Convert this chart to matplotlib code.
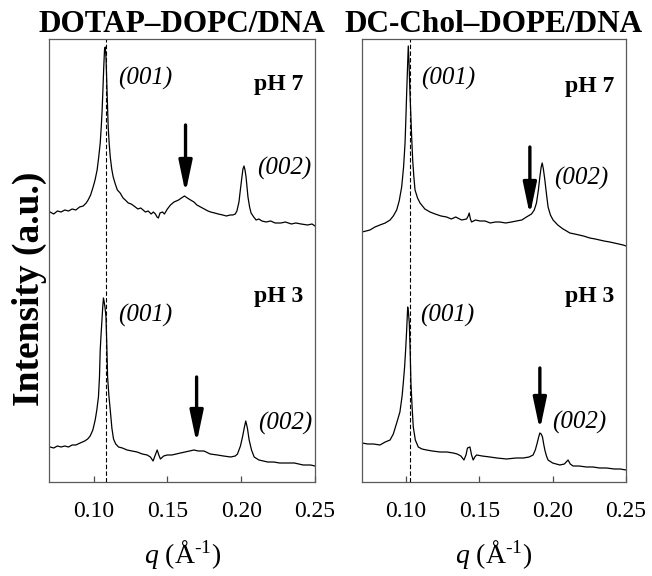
import matplotlib
matplotlib.use("Agg")
import matplotlib.pyplot as plt

plt.rcParams['font.family'] = ['Liberation Serif', 'DejaVu Serif']
plt.rcParams['mathtext.fontset'] = 'custom'
plt.rcParams['mathtext.rm'] = 'Liberation Serif'
plt.rcParams['mathtext.it'] = 'Liberation Serif:italic'

# q in 1/A, intensity in arbitrary units (curves already offset)
q_dotap_ph7 = [0.0705, 0.0730, 0.0755, 0.0780, 0.0805, 0.0830, 0.0855, 0.0880, 0.0905, 0.0930,
               0.0950, 0.0963, 0.0980, 0.0997, 0.1010, 0.1024, 0.1035, 0.1045, 0.1052, 0.1058,
               0.1064, 0.1069, 0.1074, 0.1079, 0.1084, 0.1089, 0.1094, 0.1099, 0.1106, 0.1113,
               0.1123, 0.1133, 0.1147, 0.1161, 0.1180, 0.1200, 0.1215, 0.1235, 0.1255, 0.1283,
               0.1300, 0.1320, 0.1351, 0.1370, 0.1390, 0.1405, 0.1419, 0.1430, 0.1439, 0.1450,
               0.1467, 0.1480, 0.1500, 0.1521, 0.1545, 0.1576, 0.1595, 0.1616, 0.1635, 0.1657,
               0.1680, 0.1700, 0.1725, 0.1750, 0.1775, 0.1793, 0.1820, 0.1845, 0.1875, 0.1900,
               0.1925, 0.1943, 0.1960, 0.1971, 0.1985, 0.1992, 0.2005, 0.2012, 0.2019, 0.2026,
               0.2033, 0.2046, 0.2057, 0.2067, 0.2085, 0.2101, 0.2120, 0.2140, 0.2169, 0.2200,
               0.2230, 0.2269, 0.2300, 0.2340, 0.2370, 0.2406, 0.2450, 0.2480, 0.2500]
i_dotap_ph7 = [270, 268, 271, 270, 272, 271, 273, 272, 275, 276,
               279, 282, 287, 295, 302, 312, 325, 339, 355, 372,
               395, 415, 432, 435, 425, 402, 378, 355, 338, 325,
               313, 305, 298, 292, 289, 284, 282, 279, 278, 275,
               273, 274, 270, 271, 268, 270, 268, 265, 264, 269,
               270, 268, 273, 277, 280, 282, 284, 286, 284, 282,
               280, 277, 275, 273, 271, 270, 269, 268, 267, 266,
               267, 267, 268, 271, 280, 289, 305, 313, 316, 312,
               305, 285, 275, 269, 265, 262, 263, 261, 260, 261,
               259, 259, 260, 258, 259, 258, 257, 258, 256]

q_dotap_ph3 = [0.0705, 0.0730, 0.0755, 0.0780, 0.0805, 0.0830, 0.0855, 0.0880, 0.0909, 0.0940,
               0.0960, 0.0977, 0.0995, 0.1011, 0.1022, 0.1033, 0.1040, 0.1045, 0.1051, 0.1056,
               0.1062, 0.1067, 0.1072, 0.1078, 0.1084, 0.1090, 0.1095, 0.1104, 0.1113, 0.1124,
               0.1135, 0.1150, 0.1169, 0.1195, 0.1227, 0.1260, 0.1295, 0.1330, 0.1363, 0.1385,
               0.1403, 0.1418, 0.1431, 0.1442, 0.1453, 0.1475, 0.1499, 0.1530, 0.1560, 0.1589,
               0.1620, 0.1650, 0.1680, 0.1710, 0.1748, 0.1790, 0.1839, 0.1880, 0.1929, 0.1960,
               0.1975, 0.1995, 0.2009, 0.2022, 0.2031, 0.2042, 0.2054, 0.2070, 0.2088, 0.2120,
               0.2150, 0.2179, 0.2220, 0.2260, 0.2300, 0.2360, 0.2420, 0.2470, 0.2500]
i_dotap_ph3 = [35, 34, 36, 35, 36, 35, 37, 37, 39, 41,
               43, 46, 52, 62, 72, 85, 105, 132, 148, 160,
               175, 184, 180, 174, 165, 135, 105, 86, 72, 54,
               43, 38, 35, 34, 32, 31, 30, 28, 27, 25,
               21, 27, 32, 27, 23, 26, 27, 27, 28, 29,
               30, 31, 32, 31, 31, 28, 27, 26, 25, 26,
               28, 36, 45, 55, 61, 54, 42, 32, 25, 22,
               21, 20, 20, 19, 19, 19, 17, 17, 16]

q_dchol_ph7 = [0.0702, 0.0730, 0.0756, 0.0790, 0.0824, 0.0860, 0.0893, 0.0915, 0.0938, 0.0955,
               0.0972, 0.0985, 0.0995, 0.1001, 0.1006, 0.1012, 0.1017, 0.1022, 0.1027, 0.1033,
               0.1040, 0.1047, 0.1055, 0.1063, 0.1080, 0.1097, 0.1130, 0.1165, 0.1200, 0.1240,
               0.1278, 0.1310, 0.1340, 0.1380, 0.1414, 0.1425, 0.1432, 0.1440, 0.1448, 0.1475,
               0.1505, 0.1540, 0.1575, 0.1610, 0.1641, 0.1680, 0.1720, 0.1754, 0.1790, 0.1822,
               0.1856, 0.1875, 0.1890, 0.1903, 0.1913, 0.1922, 0.1929, 0.1937, 0.1947, 0.1958,
               0.1969, 0.1985, 0.2003, 0.2035, 0.2071, 0.2095, 0.2117, 0.2150, 0.2180, 0.2210,
               0.2253, 0.2290, 0.2320, 0.2350, 0.2389, 0.2420, 0.2450, 0.2480, 0.2500]
i_dchol_ph7 = [250, 251, 252, 255, 257, 259, 262, 266, 272, 281,
               295, 315, 339, 365, 389, 415, 436, 420, 395, 372,
               345, 322, 305, 292, 284, 279, 273, 270, 268, 266,
               265, 263, 265, 262, 263, 266, 269, 263, 260, 262,
               261, 261, 259, 260, 260, 259, 260, 261, 262, 265,
               268, 272, 279, 292, 305, 315, 319, 313, 302, 288,
               275, 267, 262, 257, 253, 251, 249, 248, 247, 246,
               244, 243, 242, 241, 240, 239, 238, 237, 236]

q_dchol_ph3 = [0.0702, 0.0740, 0.0780, 0.0824, 0.0860, 0.0893, 0.0915, 0.0938, 0.0960, 0.0975,
               0.0983, 0.0992, 0.0999, 0.1006, 0.1013, 0.1019, 0.1024, 0.1030, 0.1035, 0.1043,
               0.1051, 0.1065, 0.1085, 0.1110, 0.1142, 0.1180, 0.1233, 0.1280, 0.1323, 0.1350,
               0.1375, 0.1396, 0.1410, 0.1420, 0.1437, 0.1448, 0.1459, 0.1470, 0.1482, 0.1520,
               0.1573, 0.1620, 0.1686, 0.1750, 0.1800, 0.1840, 0.1867, 0.1882, 0.1895, 0.1905,
               0.1913, 0.1922, 0.1931, 0.1939, 0.1947, 0.1958, 0.1969, 0.2000, 0.2049, 0.2080,
               0.2105, 0.2120, 0.2139, 0.2180, 0.2230, 0.2275, 0.2320, 0.2367, 0.2420, 0.2460,
               0.2500]
i_dchol_ph3 = [39, 38, 38, 37, 40, 42, 48, 59, 70, 86,
               99, 115, 132, 152, 175, 168, 159, 130, 99, 75,
               55, 42, 35, 33, 32, 31, 30, 30, 29, 28,
               26, 22, 27, 34, 35, 27, 22, 25, 27, 26,
               25, 24, 23, 24, 24, 25, 27, 32, 39, 45,
               49, 48, 45, 38, 32, 26, 22, 19, 17, 18,
               22, 18, 16, 16, 15, 15, 14, 14, 13, 13,
               12]

titles = ["DOTAP\u2013DOPC/DNA", "DC-Chol\u2013DOPE/DNA"]
q001_ref = [0.1084, 0.1029]
xticks = [0.10, 0.15, 0.20, 0.25]
xticklabels = ["0.10", "0.15", "0.20", "0.25"]

# (q, intensity tail, intensity tip) for the arrows
arrows_dotap = [(0.1623, 357, 289), (0.1698, 105, 39)]
arrows_dchol = [(0.1845, 335, 267), (0.1913, 114, 52)]

# label text, q, intensity, style
labels_dotap = [("(001)", 0.1348, 404, "it"), ("pH 7", 0.2256, 397, "bf"),
                ("(002)", 0.2293, 314, "it"), ("(001)", 0.1348, 167, "it"),
                ("pH 3", 0.2252, 185, "bf"), ("(002)", 0.2300, 59, "it")]
labels_dchol = [("(001)", 0.1287, 404, "it"), ("pH 7", 0.2250, 395, "bf"),
                ("(002)", 0.2195, 304, "it"), ("(001)", 0.1284, 167, "it"),
                ("pH 3", 0.2253, 185, "bf"), ("(002)", 0.2182, 60, "it")]

fig = plt.figure(figsize=(6.52, 5.76), dpi=100)
ax1 = fig.add_axes([0.0756, 0.1632, 0.4075, 0.7691])
ax2 = fig.add_axes([0.5548, 0.1632, 0.4054, 0.7691])

panels = [
    (ax1, [(q_dotap_ph7, i_dotap_ph7), (q_dotap_ph3, i_dotap_ph3)], arrows_dotap, labels_dotap),
    (ax2, [(q_dchol_ph7, i_dchol_ph7), (q_dchol_ph3, i_dchol_ph3)], arrows_dchol, labels_dchol),
]

for k, (ax, curves, arrows, labels) in enumerate(panels):
    for q, inten in curves:
        ax.plot(q, inten, color="k", lw=0.9)
    ax.axvline(q001_ref[k], color="k", lw=0.8, ls=(0, (4, 2)))
    for qa, y0, y1 in arrows:
        ax.annotate("", xy=(qa, y1), xytext=(qa, y0),
                    arrowprops=dict(arrowstyle="-|>,head_length=1.9,head_width=0.4",
                                    lw=2.4, color="k", shrinkA=0, shrinkB=0))
    for txt, qx, yy, style in labels:
        if style == "it":
            ax.text(qx, yy, txt, fontsize=18, style="italic", ha="center", va="center")
        else:
            ax.text(qx, yy, txt, fontsize=17, weight="bold", ha="center", va="center")

    ax.set_xlim(0.07, 0.25)
    ax.set_ylim(0, 443)
    ax.set_yticks([])
    ax.set_xticks(xticks)
    ax.set_xticklabels(xticklabels)
    ax.tick_params(axis="x", direction="in", length=4, width=0.9, pad=14,
                   labelsize=17, colors="0.3", labelcolor="k")
    for sp in ax.spines.values():
        sp.set_color("0.35")
        sp.set_linewidth(0.9)
    ax.set_title(titles[k], fontsize=22.5, weight="bold", pad=5)
    ax.set_xlabel(r"$q$ (Å$^{\mathregular{\text{-}1}}$)", fontsize=20, labelpad=11)

fig.text(0.0445, 0.499, "Intensity (a.u.)", rotation=90, fontsize=27,
         weight="bold", ha="center", va="center")

fig.savefig("out.png", dpi=100)
